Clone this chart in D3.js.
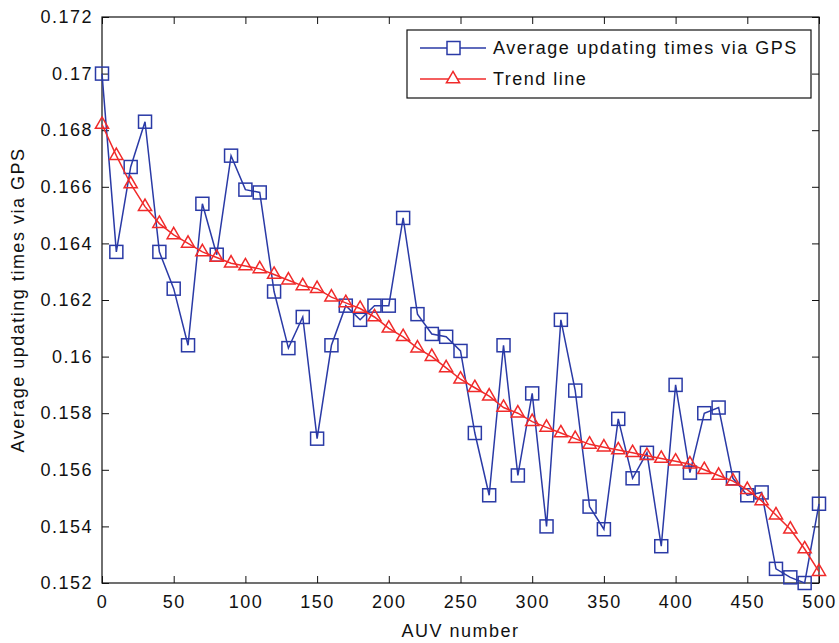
<!DOCTYPE html>
<html>
<head>
<meta charset="utf-8">
<script src="https://cdn.jsdelivr.net/npm/d3@7"></script>
<style>
  body { margin: 0; background: #fff; }
  text { font-family: "Liberation Sans", Arial, sans-serif; fill: #111; letter-spacing: 1.5px; }
</style>
</head>
<body>
<div id="chart"></div>
<script>
// AUV numbers (x)
var auvNumbers = [0, 10, 20, 30, 40, 50, 60, 70, 80, 90,
    100, 110, 120, 130, 140, 150, 160, 170, 180, 190,
    200, 210, 220, 230, 240, 250, 260, 270, 280, 290,
    300, 310, 320, 330, 340, 350, 360, 370, 380, 390,
    400, 410, 420, 430, 440, 450, 460, 470, 480, 490, 500];

// average updating times via GPS
var gpsTimes = [0.1700, 0.1637, 0.1667, 0.1683, 0.1637, 0.1624, 0.1604, 0.1654, 0.1636, 0.1671,
    0.1659, 0.1658, 0.1623, 0.1603, 0.1614, 0.1571, 0.1604, 0.1618, 0.1613, 0.1618,
    0.1618, 0.1649, 0.1615, 0.1608, 0.1607, 0.1602, 0.1573, 0.1551, 0.1604, 0.1558,
    0.1587, 0.1540, 0.1613, 0.1588, 0.1547, 0.1539, 0.1578, 0.1557, 0.1566, 0.1533,
    0.1590, 0.1559, 0.1580, 0.1582, 0.1557, 0.1551, 0.1552, 0.1525, 0.1522, 0.1520, 0.1548];

// trend line
var trendTimes = [0.1682, 0.1671, 0.1661, 0.1653, 0.1647, 0.1643, 0.1640, 0.1637, 0.1635, 0.1633,
    0.1632, 0.1631, 0.1629, 0.1627, 0.1625, 0.1624, 0.1621, 0.1619, 0.1617, 0.1614,
    0.1610, 0.1607, 0.1603, 0.1600, 0.1596, 0.1592, 0.1589, 0.1586, 0.1582, 0.1580,
    0.1577, 0.1575, 0.1573, 0.1571, 0.1569, 0.1568, 0.1567, 0.1566, 0.1565, 0.1564,
    0.1563, 0.1562, 0.1560, 0.1558, 0.1556, 0.1553, 0.1549, 0.1544, 0.1539, 0.1532, 0.1524];

var xTicks = [0, 50, 100, 150, 200, 250, 300, 350, 400, 450, 500];
var yTicks = [0.152, 0.154, 0.156, 0.158, 0.16, 0.162, 0.164, 0.166, 0.168, 0.17, 0.172];
var legendLabels = ["Average updating times via GPS", "Trend line"];

var blue = "#2a3aa6", red = "#f02a2a";

var margin = { top: 17, right: 20, bottom: 60, left: 102 };
var width = 839 - margin.left - margin.right,
    height = 643 - margin.top - margin.bottom;

var svg = d3.select("#chart").append("svg")
    .attr("width", 839)
    .attr("height", 643);

var g = svg.append("g")
    .attr("transform", "translate(" + margin.left + "," + margin.top + ")");

var x = d3.scaleLinear().domain([0, 500]).range([0, width]);
var y = d3.scaleLinear().domain([0.152, 0.172]).range([height, 0]);

var fmt = function (d) { return String(+d.toFixed(3)); };

// axes, ticks pointing inwards like matlab
var tickLen = 7;
g.append("g").attr("transform", "translate(0," + height + ")")
    .call(d3.axisBottom(x).tickValues(xTicks).tickSizeInner(-tickLen).tickSizeOuter(0).tickPadding(12));
g.append("g")
    .call(d3.axisTop(x).tickValues(xTicks).tickSizeInner(-tickLen).tickSizeOuter(0).tickFormat(""));
g.append("g")
    .call(d3.axisLeft(y).tickValues(yTicks).tickFormat(fmt).tickSizeInner(-tickLen).tickSizeOuter(0).tickPadding(9));
g.append("g").attr("transform", "translate(" + width + ",0)")
    .call(d3.axisRight(y).tickValues(yTicks).tickSizeInner(-tickLen).tickSizeOuter(0).tickFormat(""));

g.selectAll(".tick text").attr("font-size", "18px").attr("font-family", "Liberation Sans, Arial, sans-serif").attr("fill", "#111");
g.selectAll(".domain").remove();
g.selectAll(".tick line").attr("stroke", "#111");

g.append("rect")
    .attr("width", width).attr("height", height)
    .attr("fill", "none").attr("stroke", "#111").attr("stroke-width", 1.2);

// axis titles
svg.append("text")
    .attr("x", margin.left + width / 2).attr("y", 637)
    .attr("text-anchor", "middle").attr("font-size", "18px")
    .text("AUV number");
svg.append("text")
    .attr("transform", "translate(24," + (margin.top + height / 2) + ") rotate(-90)")
    .attr("text-anchor", "middle").attr("font-size", "18px")
    .text("Average updating times via GPS");

var lineGen = function (vals) {
    return d3.line()
        .x(function (d, i) { return x(auvNumbers[i]); })
        .y(function (d) { return y(d); })(vals);
};

var tri = d3.symbol().type(d3.symbolTriangle).size(75);

function drawSeries(vals, color, shape) {
    g.append("path")
        .attr("d", lineGen(vals))
        .attr("fill", "none").attr("stroke", color).attr("stroke-width", 1.5);
    var pts = g.selectAll(null).data(vals).enter();
    if (shape === "square") {
        pts.append("rect")
            .attr("x", function (d, i) { return x(auvNumbers[i]) - 6.5; })
            .attr("y", function (d) { return y(d) - 6.5; })
            .attr("width", 13).attr("height", 13)
            .attr("fill", "none").attr("stroke", color).attr("stroke-width", 1.5);
    } else {
        pts.append("path")
            .attr("d", tri)
            .attr("transform", function (d, i) { return "translate(" + x(auvNumbers[i]) + "," + y(d) + ")"; })
            .attr("fill", "none").attr("stroke", color).attr("stroke-width", 1.5);
    }
}

drawSeries(gpsTimes, blue, "square");
drawSeries(trendTimes, red, "triangle");

// legend
var legend = svg.append("g").attr("transform", "translate(407,30)");
legend.append("rect")
    .attr("width", 404).attr("height", 68)
    .attr("fill", "#fff").attr("stroke", "#111").attr("stroke-width", 1.2);

var legendColors = [blue, red];
legendLabels.forEach(function (lab, i) {
    var ly = 18 + i * 31;
    legend.append("line")
        .attr("x1", 13).attr("x2", 79).attr("y1", ly).attr("y2", ly)
        .attr("stroke", legendColors[i]).attr("stroke-width", 1.5);
    if (i === 0) {
        legend.append("rect")
            .attr("x", 40).attr("y", ly - 6.5).attr("width", 13).attr("height", 13)
            .attr("fill", "#fff").attr("stroke", legendColors[i]).attr("stroke-width", 1.5);
    } else {
        legend.append("path").attr("d", tri)
            .attr("transform", "translate(46," + ly + ")")
            .attr("fill", "#fff").attr("stroke", legendColors[i]).attr("stroke-width", 1.5);
    }
    legend.append("text")
        .attr("x", 86).attr("y", ly + 6)
        .attr("font-size", "18px")
        .text(lab);
});
</script>
</body>
</html>
